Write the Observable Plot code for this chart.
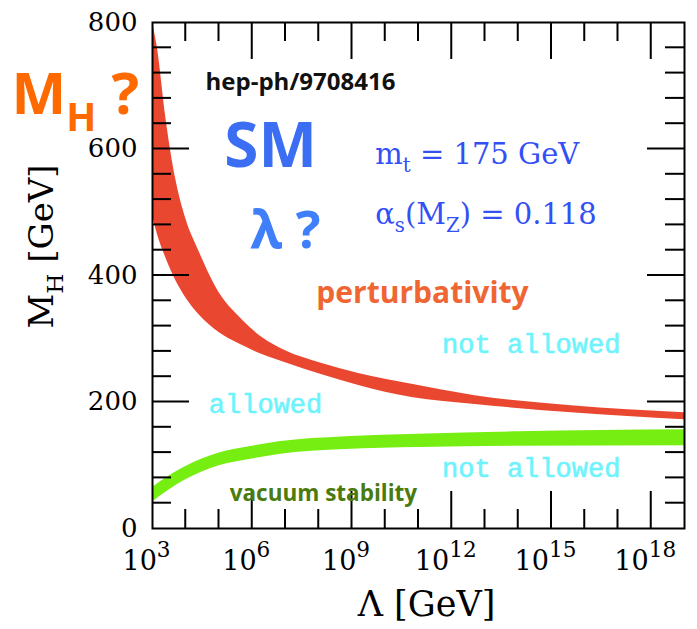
<!DOCTYPE html>
<html>
<head>
<meta charset="utf-8">
<script src="https://cdn.jsdelivr.net/npm/d3@7"></script>
<script src="https://cdn.jsdelivr.net/npm/@observablehq/plot@0.6"></script>
<style>
  html, body { margin: 0; padding: 0; background: #fff; }
  #chart svg { display: block; }
</style>
</head>
<body>
<div id="chart"></div>
<script>
// ---- data (log10 of Λ in GeV, Higgs mass in GeV) ----
const perturbExp   = [3.0, 3.15, 3.4, 3.7, 4.0, 4.4, 5.0, 5.6, 6.3, 7.0, 8.1, 9.2, 10.8, 12.7, 15.6, 19.0];
const perturbUpper = [800, 759, 650, 552, 490, 438, 373, 335, 302, 281, 261, 245, 228, 210, 194, 183];
const perturbLower = [495, 465, 428, 392, 365, 338, 310, 292, 275, 262, 243, 226, 207, 196, 183, 172];

const stabilityExp   = [3.0, 3.5, 4.0, 4.98, 6.0, 6.8, 8.8, 11.0, 14.0, 19.0];
const stabilityUpper = [65, 83, 98, 119, 130, 137, 145, 149, 153, 156];
const stabilityLower = [42, 61, 77, 99, 110, 117, 125, 128, 130, 131];

// ticks
const xMajorExp = [3, 6, 9, 12, 15, 18];
const xMinorExp = [4, 5, 7, 8, 10, 11, 13, 14, 16, 17];
const yMajor = [0, 200, 400, 600, 800];
const yMinor = [40, 80, 120, 160, 240, 280, 320, 360, 440, 480, 520, 560, 640, 680, 720, 760];

// texts
const xLabel = "Λ [GeV]";
const yLabel = "M_{H} [GeV]";
const questionLabel = "M_{H} ?";
const annotationText = ["hep-ph/9708416", "SM", "λ ?", "m_{t} = 175 GeV", "α_{s}(M_{Z}) = 0.118",
                        "perturbativity", "not allowed", "not allowed", "allowed", "vacuum stability"];
const annotationExp = [7.45, 6.55, 7.0, 9.70, 9.70, 11.12, 14.39, 14.39, 6.40, 8.14];
const annotationMh  = [694, 571, 444, 577, 482, 357, 278, 81, 182, 44];

// ---- build tables ----
const perturbBand = perturbExp.map((e, i) => ({L: 10 ** e, lo: perturbLower[i], hi: perturbUpper[i]}));
const stabilityBand = stabilityExp.map((e, i) => ({L: 10 ** e, lo: stabilityLower[i], hi: stabilityUpper[i]}));
const ann = annotationText.map((t, i) => ({text: t, L: 10 ** annotationExp[i], m: annotationMh[i]}));
const pick = (...idx) => idx.map(i => ann[i]);

const innerX = xMajorExp.filter(e => e > 3);
const innerY = yMajor.filter(v => v > 0 && v < 800);

const W = 697, H = 629;
const mL = 152, mR = 13, mT = 22, mB = 101;
const fw = W - mL - mR, fh = H - mT - mB;
const majorLen = 37, minorLen = 19;
const yDomain = [0, 800], xDecades = [3, 19];
const gevPerPx = (yDomain[1] - yDomain[0]) / fh;
const decPerPx = (xDecades[1] - xDecades[0]) / fw;

const sans = "Open Sans";
const serif = "DejaVu Serif";
const mono = "Liberation Mono";

// inward ticks drawn as thin filled rectangles (2 px wide)
const xTicks = (list, len, top) => Plot.rect(list, {
  x1: d => 10 ** (d - decPerPx), x2: d => 10 ** (d + decPerPx),
  y1: top ? yDomain[1] - len * gevPerPx : yDomain[0],
  y2: top ? yDomain[1] : yDomain[0] + len * gevPerPx,
  fill: "black"});
const yTicks = (list, len, right) => Plot.rect(list, {
  y1: d => d - gevPerPx, y2: d => d + gevPerPx,
  x1: right ? 10 ** (xDecades[1] - len * decPerPx) : 10 ** xDecades[0],
  x2: right ? 10 ** xDecades[1] : 10 ** (xDecades[0] + len * decPerPx),
  fill: "black"});

const chart = Plot.plot({
  width: W, height: H,
  marginLeft: mL, marginRight: mR, marginTop: mT, marginBottom: mB,
  style: {fontFamily: serif, background: "white", color: "black", overflow: "visible"},
  x: {type: "log", domain: xDecades.map(e => 10 ** e), label: null},
  y: {domain: yDomain, label: null},
  marks: [
    Plot.areaY(perturbBand, {x: "L", y1: "lo", y2: "hi", fill: "#EA4731", curve: "monotone-x"}),
    Plot.areaY(stabilityBand, {x: "L", y1: "lo", y2: "hi", fill: "#77EE12", curve: "monotone-x"}),

    // inward ticks on all four sides
    xTicks(innerX, majorLen, false), xTicks(xMinorExp, minorLen, false),
    xTicks(innerX, majorLen, true),  xTicks(xMinorExp, minorLen, true),
    yTicks(innerY, majorLen, false), yTicks(yMinor, minorLen, false),
    yTicks(innerY, majorLen, true),  yTicks(yMinor, minorLen, true),
    Plot.frame({stroke: "black", strokeWidth: 2}),

    Plot.axisX({ticks: xMajorExp.map(e => 10 ** e), tickSize: 0, tickPadding: 22, dx: -6,
      tickFormat: d => `10^{${Math.round(Math.log10(d))}}`, fontSize: 27, label: null}),
    Plot.axisY({ticks: yMajor, tickSize: 0, tickPadding: 15, fontSize: 26, label: null}),

    // axis titles
    Plot.text([xLabel], {text: d => d, frameAnchor: "bottom", dx: 8, dy: 87, lineAnchor: "bottom",
      fontSize: 35, fontFamily: serif}),
    Plot.text([yLabel], {text: d => d, frameAnchor: "left", dx: -100, dy: -29, rotate: -90,
      lineAnchor: "bottom", textAnchor: "middle", fontSize: 34, fontFamily: serif}),
    Plot.text([questionLabel], {text: d => d, frameAnchor: "top-left", dx: -141, dy: 91,
      textAnchor: "start", lineAnchor: "bottom", fontSize: 58, fontWeight: "bold", fontFamily: sans, fill: "#FF6A00"}),

    // annotations
    Plot.text(pick(0), {x: "L", y: "m", text: "text", lineAnchor: "bottom", fontSize: 24, fontWeight: "bold", fontFamily: sans, fill: "#111"}),
    Plot.text(pick(1), {x: "L", y: "m", text: "text", lineAnchor: "bottom", fontSize: 62, fontWeight: "bold", fontFamily: sans, fill: "#3B6EF2"}),
    Plot.text(pick(2), {x: "L", y: "m", text: "text", lineAnchor: "bottom", fontSize: 52, fontWeight: "bold", fontFamily: sans, fill: "#3F7FFA"}),
    Plot.text(pick(3, 4), {x: "L", y: "m", text: "text", lineAnchor: "bottom", textAnchor: "start", ariaLabel: "parameters",
      fontSize: 29, fontFamily: serif, fill: "#3350F5"}),
    Plot.text(pick(5), {x: "L", y: "m", text: "text", lineAnchor: "bottom", fontSize: 30, fontWeight: "bold", fontFamily: sans, fill: "#F06633"}),
    Plot.text(pick(6, 7, 8), {x: "L", y: "m", text: "text", lineAnchor: "bottom", fontSize: 27, fontFamily: mono,
      fill: "#6EF3FC", stroke: "#6EF3FC", strokeWidth: 0.6}),
    Plot.text(pick(9), {x: "L", y: "m", text: "text", lineAnchor: "bottom", fontSize: 22.5, fontWeight: "bold", fontFamily: sans, fill: "#4A7B0E"})
  ]
});

document.getElementById("chart").appendChild(chart);
chart.querySelectorAll('g[aria-label="parameters"] text').forEach(t => t.setAttribute("word-spacing", "5"));

// turn _{..} and ^{..} into real sub/superscripts
function richify(root) {
  const NS = "http://www.w3.org/2000/svg";
  root.querySelectorAll("text").forEach(t => {
    const s = t.textContent;
    if (!/[_^]\{/.test(s)) return;
    const fs = parseFloat(getComputedStyle(t).fontSize) || 16;
    const parts = s.split(/([_^]\{[^}]*\})/).filter(p => p !== "");
    t.textContent = "";
    let shift = 0;
    for (const p of parts) {
      const ts = document.createElementNS(NS, "tspan");
      const m = p.match(/^([_^])\{([^}]*)\}$/);
      let target = 0, txt = p;
      if (m) {
        txt = m[2];
        const sub = m[1] === "_";
        ts.setAttribute("font-size", (fs * (sub ? 0.68 : 0.8)).toFixed(1));
        target = sub ? fs * 0.3 : -fs * 0.45;
      }
      ts.textContent = txt;
      if (target !== shift) { ts.setAttribute("dy", (target - shift).toFixed(1)); shift = target; }
      t.appendChild(ts);
    }
  });
}
richify(chart);
</script>
</body>
</html>
